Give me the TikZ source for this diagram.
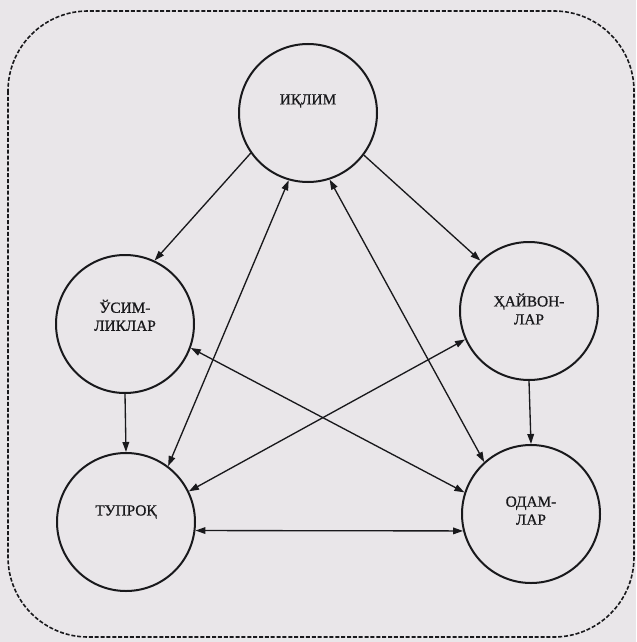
\documentclass[tikz,border=0pt]{standalone}
\usepackage{fontspec}
\setmainfont{Liberation Serif}
\newfontfamily\lblfont[FakeBold=0.9]{Liberation Serif}
\usetikzlibrary{arrows.meta}
\definecolor{bg}{RGB}{233,230,233}
\definecolor{ink}{RGB}{25,25,28}
\begin{document}
\begin{tikzpicture}[x=0.75pt,y=-0.75pt,
  topic/.style={circle,draw=ink,line width=1.5pt,minimum size=103.5pt,inner sep=0pt},
  lbl/.style={text=ink,align=center,font=\lblfont\fontsize{11.5}{13.5}\selectfont},
  tip/.tip={Triangle[length=7.5pt,width=5pt]},
  link/.style={draw=ink,line width=1pt,-tip},
  both/.style={draw=ink,line width=1pt,tip-tip},
  frame/.style={draw=ink,line width=1.2pt,dash pattern=on 3pt off 1.4pt,rounded corners=60pt}]
\useasboundingbox (0,0) rectangle (636,642);
\fill[bg] (0,0) rectangle (636,642);
\draw[frame] (8,11) rectangle (634,637);

\node[topic,label={[lbl,yshift=9pt]center:ИҚЛИМ}] (iklim) at (308,113) {};
\node[topic,label={[lbl,yshift=6.5pt]center:ЎСИМ-\\ЛИКЛАР}] (usim) at (125,324) {};
\node[topic,label={[lbl,yshift=1.5pt]center:ҲАЙВОН-\\ЛАР}] (haivon) at (529,311) {};
\node[topic,label={[lbl,yshift=7.5pt]center:ТУПРОҚ}] (tuproq) at (126,522) {};
\node[topic,label={[lbl,yshift=2.5pt]center:ОДАМ-\\ЛАР}] (odam) at (531,514) {};

\draw[link] (iklim.215) -- (usim.65);
\draw[link] (iklim.-37) -- (haivon.134);
\draw[both] (iklim.254) -- (tuproq.53);
\draw[both] (iklim.-72) -- (odam.132);
\draw[link] (usim.south) -- (tuproq.north);
\draw[link] (haivon.south) -- (odam.north);
\draw[both] (usim.-20) -- (odam.162);
\draw[both] (haivon.204) -- (tuproq.26);
\draw[both] (tuproq.-7.5) -- (odam.194);
\end{tikzpicture}
\end{document}
